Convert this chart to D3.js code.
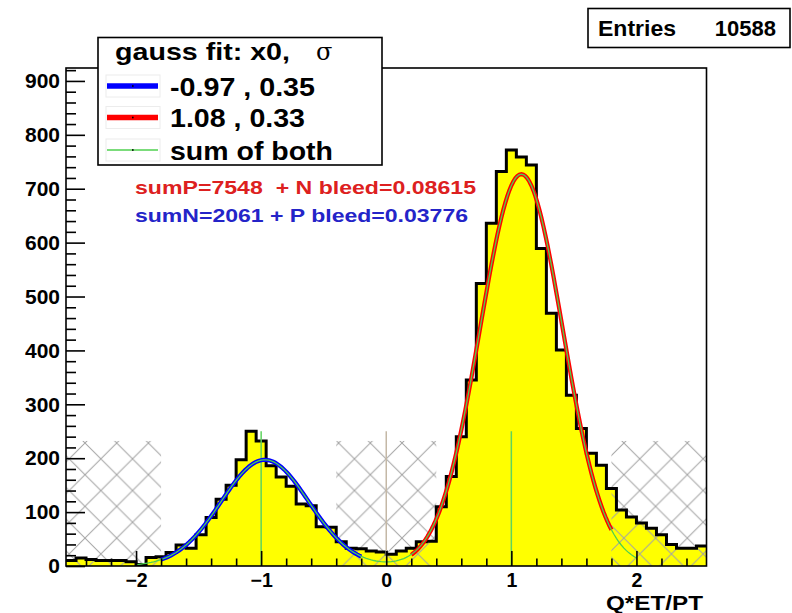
<!DOCTYPE html>
<html>
<head>
<meta charset="utf-8">
<script src="https://cdn.jsdelivr.net/npm/d3@7"></script>
<style>
  body { margin: 0; background: #fff; }
  svg { display: block; }
  text { font-family: "Liberation Sans", Arial, Helvetica, sans-serif; font-weight: bold; }
</style>
</head>
<body>
<svg id="chart" width="792" height="613"></svg>
<script>
// Histogram of Q*ET/PT: 64 bins spanning [xMin, xMax]
const xMin = -2.56, xMax = 2.56, yMax = 924;
const counts = [
  10, 15, 12, 10, 10, 10, 8, 3, 16, 17,
  25, 39, 33, 58, 90, 124, 150, 197,
  250, 232, 186, 165, 148, 115, 112, 73, 72, 45,
  33, 32, 28, 26, 22, 28, 33, 45, 46,
  110, 166, 240, 345, 524, 636, 732, 772, 759, 744,
  589, 469, 401, 317, 255, 209, 187,
  144, 104, 91, 80, 70, 58, 40, 33, 33, 37
];
const xTicks = [-2, -1, 0, 1, 2];
const yTicks = [0, 100, 200, 300, 400, 500, 600, 700, 800, 900];

// Gaussian fits (x0, sigma from the legend; amplitude in counts per bin)
const fitLabels = ["-0.97 , 0.35", "1.08 , 0.33", "sum of both"];
const fitMeans = [-0.97, 1.08];
const fitSigmas = [0.35, 0.33];
const fitAmps = [197, 727];
const fitRanges = [[-1.8, -0.2], [0.2, 1.8]];
const sumRange = [-2, 2];
const fitColors = ["#0000ff", "#ff0000", "#4fd04f"];

// Reference markers and excluded (hatched) windows
const markerX = [-1, 0, 1];
const markerColors = ["#5fd35f", "#c4b8a6", "#5fd35f"];
const markerHeight = 250;
const hatchRanges = [[-2.56, -1.8], [-0.4, 0.4], [1.8, 2.56]];
const hatchLevel = 232;

const entries = 10588;
const sumP = 7548, bleedN = 0.08615, sumN = 2061, bleedP = 0.03776;

const svg = d3.select("#chart");
const frame = { left: 66, right: 706.5, top: 68, bottom: 566 };
const x = d3.scaleLinear().domain([xMin, xMax]).range([frame.left, frame.right]);
const y = d3.scaleLinear().domain([0, yMax]).range([frame.bottom, frame.top]);

const defs = svg.append("defs");
defs.append("clipPath").attr("id", "frameClip")
  .append("rect").attr("x", frame.left).attr("y", frame.top)
  .attr("width", frame.right - frame.left).attr("height", frame.bottom - frame.top);

// Diamond cross-hatch
const period = 31.7;
const pat = defs.append("pattern").attr("id", "hatch")
  .attr("patternUnits", "userSpaceOnUse")
  .attr("x", 85).attr("y", 443)
  .attr("width", period).attr("height", period);
pat.append("path")
  .attr("d", `M0,0L${period},${period}M0,${period}L${period},0M${-period/2},${period/2}L${period/2},${-period/2}M${period/2},${period*1.5}L${period*1.5},${period/2}M${-period/2},${period/2}L${period/2},${period*1.5}M${period/2},${-period/2}L${period*1.5},${period/2}`)
  .attr("stroke", "#a3a3a3").attr("stroke-width", 1).attr("fill", "none");

const binW = (xMax - xMin) / counts.length;
const steps = [];
counts.forEach((c, i) => {
  steps.push([xMin + i * binW, c]);
  steps.push([xMin + (i + 1) * binW, c]);
});

const plot = svg.append("g").attr("clip-path", "url(#frameClip)");

// Histogram fill
plot.append("path")
  .datum(steps)
  .attr("d", d3.area().x(d => x(d[0])).y0(y(0)).y1(d => y(d[1])))
  .attr("fill", "#ffff00");

// Hatched windows
plot.selectAll("rect.hatch").data(hatchRanges).join("rect")
  .attr("class", "hatch")
  .attr("x", d => x(d[0])).attr("width", d => x(d[1]) - x(d[0]))
  .attr("y", y(hatchLevel)).attr("height", y(0) - y(hatchLevel))
  .attr("fill", "url(#hatch)");

// Histogram outline
plot.append("path")
  .datum(steps)
  .attr("d", d3.line().x(d => x(d[0])).y(d => y(d[1])))
  .attr("fill", "none").attr("stroke", "#000").attr("stroke-width", 3)
  .attr("stroke-linejoin", "miter");

// Marker lines
plot.selectAll("line.marker").data(markerX).join("line")
  .attr("class", "marker")
  .attr("x1", d => x(d)).attr("x2", d => x(d))
  .attr("y1", y(0)).attr("y2", y(markerHeight))
  .attr("stroke", (d, i) => markerColors[i]).attr("stroke-width", 1.5);

// Fit curves
const gauss = (v, k) => fitAmps[k] * Math.exp(-0.5 * Math.pow((v - fitMeans[k]) / fitSigmas[k], 2));
const curve = d3.line().x(d => x(d[0])).y(d => y(d[1]));
fitRanges.forEach((r, k) => {
  const pts = d3.range(0, 101).map(j => {
    const v = r[0] + (r[1] - r[0]) * j / 100;
    return [v, gauss(v, k)];
  });
  plot.append("path").datum(pts).attr("d", curve)
    .attr("fill", "none").attr("stroke", fitColors[k]).attr("stroke-width", 4.2);
});
const sumPts = d3.range(0, 201).map(j => {
  const v = sumRange[0] + (sumRange[1] - sumRange[0]) * j / 200;
  return [v, gauss(v, 0) + gauss(v, 1)];
});
plot.append("path").datum(sumPts).attr("d", curve)
  .attr("fill", "none").attr("stroke", fitColors[2]).attr("stroke-width", 1.3);

// Axes (ticks point into the frame)
const yAxis = svg.append("g").attr("transform", `translate(${frame.left},0)`)
  .call(d3.axisLeft(y).tickValues(yTicks).tickSize(-19).tickPadding(6).tickFormat(d3.format("d")));
svg.append("g").attr("transform", `translate(${frame.left},0)`)
  .call(d3.axisLeft(y).tickValues(d3.range(0, yMax, 20).filter(v => v % 100 !== 0)).tickSize(-10).tickFormat(""));
const xAxis = svg.append("g").attr("transform", `translate(0,${frame.bottom})`)
  .call(d3.axisBottom(x).tickValues(xTicks).tickSize(-15).tickPadding(7).tickFormat(d3.format("d")));
svg.append("g").attr("transform", `translate(0,${frame.bottom})`)
  .call(d3.axisBottom(x).tickValues(d3.range(-24, 25, 2).filter(v => v % 10 !== 0).map(v => v / 10)).tickSize(-7.5).tickFormat(""));
svg.selectAll(".domain").remove();
svg.selectAll(".tick line").attr("stroke", "#000").attr("stroke-width", 1.6);
yAxis.selectAll("text").attr("font-size", 21).style("fill", "#000");
xAxis.selectAll("text").attr("font-size", 19.5).style("fill", "#000");

// Frame
svg.append("rect").attr("x", frame.left).attr("y", frame.top)
  .attr("width", frame.right - frame.left).attr("height", frame.bottom - frame.top)
  .attr("fill", "none").attr("stroke", "#000").attr("stroke-width", 1.6);

// X-axis title
svg.append("text").attr("x", 703).attr("y", 609.5).attr("text-anchor", "end")
  .attr("font-size", 20).attr("textLength", 97).attr("lengthAdjust", "spacingAndGlyphs")
  .style("fill", "#000").text("Q*ET/PT");

// Legend
const leg = svg.append("g");
leg.append("rect").attr("x", 98).attr("y", 37.5).attr("width", 284).attr("height", 127.5)
  .attr("fill", "#fff").attr("stroke", "#000").attr("stroke-width", 1.6);
const title = leg.append("text").attr("x", 115).attr("y", 60).attr("font-size", 24).style("fill", "#000");
title.append("tspan").attr("textLength", 175).attr("lengthAdjust", "spacingAndGlyphs").text("gauss fit: x0,");
title.append("tspan").attr("x", 316).attr("font-family", "DejaVu Serif, serif").attr("font-weight", "normal")
  .attr("font-size", 24).text("σ");
const rowY = [86, 117.5, 150];
const rowW = [145, 135, 163];
const rowWidths = [5.5, 5.5, 1.3];
fitLabels.forEach((lab, i) => {
  leg.append("rect").attr("x", 106).attr("y", rowY[i] - 11).attr("width", 54).attr("height", 22)
    .attr("fill", "none").attr("stroke", "#ececec").attr("stroke-width", 1);
  leg.append("line").attr("x1", 107).attr("x2", 158).attr("y1", rowY[i]).attr("y2", rowY[i])
    .attr("stroke", fitColors[i]).attr("stroke-width", rowWidths[i]);
  leg.append("rect").attr("x", 132).attr("y", rowY[i] - 0.8).attr("width", 1.6).attr("height", 1.6).attr("fill", "#000");
  leg.append("text").attr("x", 170).attr("y", rowY[i] + 9.5).attr("font-size", 26)
    .attr("textLength", rowW[i]).attr("lengthAdjust", "spacingAndGlyphs").style("fill", "#000").text(lab);
});

// Statistics box
const stats = svg.append("g");
stats.append("rect").attr("x", 588).attr("y", 8.5).attr("width", 202).attr("height", 39)
  .attr("fill", "#fff").attr("stroke", "#000").attr("stroke-width", 1.6);
stats.append("text").attr("x", 598).attr("y", 36).attr("font-size", 22)
  .attr("textLength", 78).attr("lengthAdjust", "spacingAndGlyphs").style("fill", "#000").text("Entries");
stats.append("text").attr("x", 776).attr("y", 36).attr("font-size", 22).attr("text-anchor", "end")
  .style("fill", "#000").text(String(entries));

// Yield annotations
svg.append("text").attr("x", 135).attr("y", 194).attr("font-size", 18).style("fill", "#dd2020")
  .attr("textLength", 341).attr("lengthAdjust", "spacingAndGlyphs").attr("xml:space", "preserve")
  .text(`sumP=${sumP}  + N bleed=${bleedN}`);
svg.append("text").attr("x", 135).attr("y", 221.5).attr("font-size", 18).style("fill", "#2424c8")
  .attr("textLength", 333).attr("lengthAdjust", "spacingAndGlyphs")
  .text(`sumN=${sumN} + P bleed=${bleedP}`);
</script>
</body>
</html>
